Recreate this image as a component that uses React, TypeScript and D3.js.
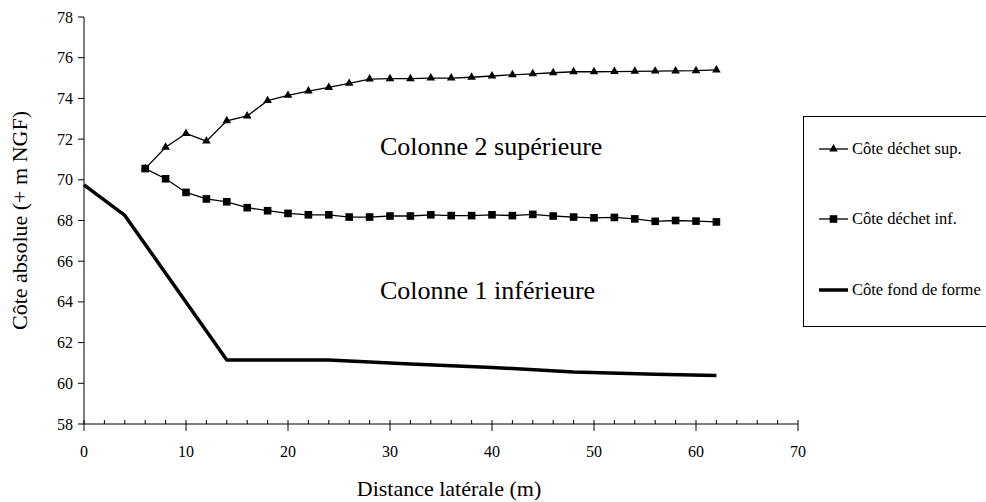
import React, { useRef, useEffect } from 'react';
import * as d3 from 'd3';

// distances (m)
const xSup: number[] = [6, 8, 10, 12, 14, 16, 18, 20, 22, 24, 26, 28, 30, 32, 34, 36, 38, 40, 42, 44, 46, 48, 50, 52, 54, 56, 58, 60, 62];
const coteSup: number[] = [70.55, 71.6, 72.28, 71.9, 72.9, 73.14, 73.89, 74.15, 74.36, 74.54, 74.74, 74.95, 74.97, 74.97, 75.0, 75.0, 75.04, 75.1, 75.16, 75.21, 75.26, 75.31, 75.31, 75.32, 75.33, 75.34, 75.35, 75.36, 75.4];
const coteInf: number[] = [70.55, 70.05, 69.38, 69.06, 68.92, 68.63, 68.48, 68.35, 68.28, 68.28, 68.17, 68.17, 68.22, 68.22, 68.28, 68.24, 68.24, 68.28, 68.24, 68.3, 68.22, 68.17, 68.13, 68.15, 68.08, 67.96, 68.0, 67.97, 67.93];

const xFond: number[] = [0, 2, 4, 14, 24, 32, 40, 48, 56, 62];
const coteFond: number[] = [69.75, 69.0, 68.25, 61.15, 61.15, 60.95, 60.78, 60.56, 60.45, 60.38];

const xMajorTicks: number[] = [0, 10, 20, 30, 40, 50, 60, 70];
const yTicks: number[] = [58, 60, 62, 64, 66, 68, 70, 72, 74, 76, 78];

const legendLabels: string[] = ['Côte déchet sup.', 'Côte déchet inf.', 'Côte fond de forme'];

const FONT = '"Liberation Serif", "Times New Roman", serif';

const App: React.FC = () => {
  const ref = useRef<SVGSVGElement | null>(null);

  useEffect(() => {
    const svg = d3.select(ref.current);
    svg.selectAll('*').remove();

    const x = d3.scaleLinear().domain([0, 70]).range([84, 798]);
    const y = d3.scaleLinear().domain([58, 78]).range([424, 17]);

    const g = svg.append('g').attr('font-family', FONT).attr('fill', '#000');

    // axes lines
    g.append('line').attr('x1', x(0)).attr('x2', x(70)).attr('y1', y(58)).attr('y2', y(58))
      .attr('stroke', '#000').attr('stroke-width', 1);
    g.append('line').attr('x1', x(0)).attr('x2', x(0)).attr('y1', y(78)).attr('y2', y(58))
      .attr('stroke', '#000').attr('stroke-width', 1);

    // x minor ticks (inside)
    const minor = d3.range(0, 71, 2).filter(v => v % 10 !== 0);
    g.selectAll('.xminor').data(minor).enter().append('line')
      .attr('x1', d => x(d)).attr('x2', d => x(d))
      .attr('y1', y(58) - 4).attr('y2', y(58))
      .attr('stroke', '#000');
    // x major ticks (cross)
    g.selectAll('.xmajor').data(xMajorTicks).enter().append('line')
      .attr('x1', d => x(d)).attr('x2', d => x(d))
      .attr('y1', y(58) - 4).attr('y2', y(58) + 7)
      .attr('stroke', '#000');
    g.selectAll('.xlab').data(xMajorTicks).enter().append('text')
      .attr('x', d => x(d)).attr('y', 457)
      .attr('text-anchor', 'middle').attr('font-size', 16)
      .text(d => d);

    // y ticks (outside)
    g.selectAll('.ytick').data(yTicks).enter().append('line')
      .attr('x1', x(0) - 6).attr('x2', x(0))
      .attr('y1', d => y(d)).attr('y2', d => y(d))
      .attr('stroke', '#000');
    g.selectAll('.ylab').data(yTicks).enter().append('text')
      .attr('x', 73).attr('y', d => y(d) + 5.5)
      .attr('text-anchor', 'end').attr('font-size', 16)
      .text(d => d);

    // axis titles
    g.append('text').attr('x', 449).attr('y', 496).attr('text-anchor', 'middle')
      .attr('font-size', 22).text('Distance latérale (m)');
    g.append('text').attr('transform', `translate(27,${(y(58) + y(78)) / 2}) rotate(-90)`)
      .attr('text-anchor', 'middle').attr('font-size', 22).text('Côte absolue (+ m NGF)');

    const line = d3.line<[number, number]>().x(d => x(d[0])).y(d => y(d[1]));

    const fondPts: [number, number][] = xFond.map((v, i) => [v, coteFond[i]]);
    const supPts: [number, number][] = xSup.map((v, i) => [v, coteSup[i]]);
    const infPts: [number, number][] = xSup.map((v, i) => [v, coteInf[i]]);

    g.append('path').attr('d', line(fondPts)).attr('fill', 'none')
      .attr('stroke', '#000').attr('stroke-width', 3.5).attr('stroke-linejoin', 'round');
    g.append('path').attr('d', line(supPts)).attr('fill', 'none')
      .attr('stroke', '#000').attr('stroke-width', 1.3);
    g.append('path').attr('d', line(infPts)).attr('fill', 'none')
      .attr('stroke', '#000').attr('stroke-width', 1.3);

    const tri = d3.symbol().type(d3.symbolTriangle).size(32);
    g.selectAll('.tri').data(supPts).enter().append('path')
      .attr('d', tri()).attr('transform', d => `translate(${x(d[0])},${y(d[1])})`)
      .attr('fill', '#000');
    g.selectAll('.sq').data(infPts).enter().append('rect')
      .attr('x', d => x(d[0]) - 3.8).attr('y', d => y(d[1]) - 3.8)
      .attr('width', 7.6).attr('height', 7.6).attr('fill', '#000');

    // annotations
    g.append('text').attr('x', 380).attr('y', 155).attr('font-size', 26).text('Colonne 2 supérieure');
    g.append('text').attr('x', 380).attr('y', 299).attr('font-size', 26).text('Colonne 1 inférieure');

    // legend
    const leg = svg.append('g').attr('font-family', FONT);
    leg.append('rect').attr('x', 803.5).attr('y', 116.5).attr('width', 200).attr('height', 210)
      .attr('fill', '#fff').attr('stroke', '#000').attr('stroke-width', 1);
    const legY = [149, 219, 290];
    legendLabels.forEach((lab, i) => {
      const ly = legY[i];
      leg.append('line').attr('x1', 819).attr('x2', 848).attr('y1', ly).attr('y2', ly)
        .attr('stroke', '#000').attr('stroke-width', i === 2 ? 3.5 : 1.3);
      if (i === 0) {
        leg.append('path').attr('d', tri()).attr('transform', `translate(833.5,${ly})`).attr('fill', '#000');
      } else if (i === 1) {
        leg.append('rect').attr('x', 833.5 - 3.8).attr('y', ly - 3.8).attr('width', 7.6).attr('height', 7.6).attr('fill', '#000');
      }
      leg.append('text').attr('x', 852).attr('y', ly + 5).attr('font-size', 16.5).text(lab);
    });
  }, []);

  return (
    <svg ref={ref} width={986} height={502}
      style={{ position: 'absolute', left: 0, top: 0, background: '#fff' }} />
  );
};

export default App;
